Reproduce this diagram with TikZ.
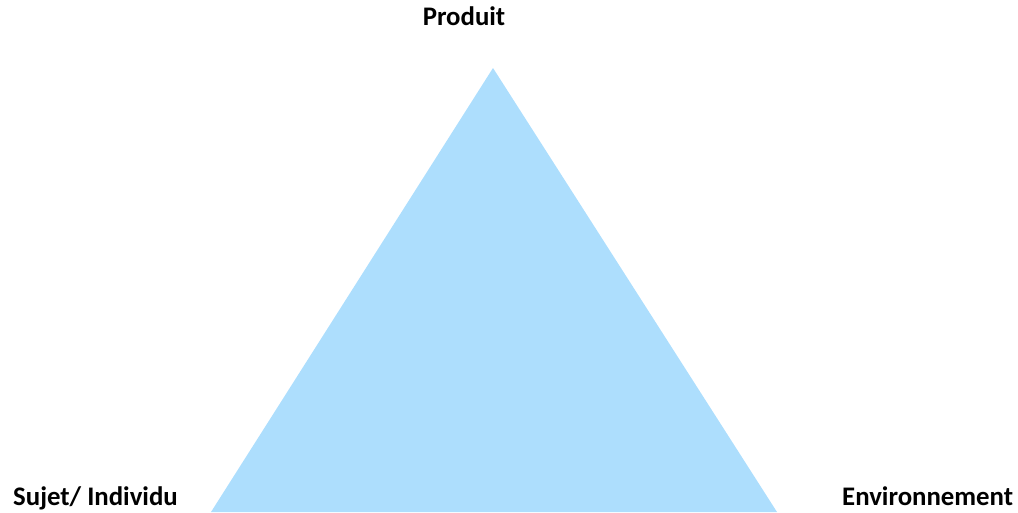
\documentclass[tikz,border=0pt]{standalone}
\usepackage{fontspec}
\setmainfont{Carlito}
\usetikzlibrary{positioning}
\definecolor{trifill}{HTML}{ADDEFD}

\begin{document}
\begin{tikzpicture}[x=1pt, y=-1pt,
  corner/.style={font=\fontsize{26.8}{32}\selectfont\bfseries, inner sep=0pt, anchor=base west},
]
  \useasboundingbox (0,0) rectangle (1018,512);

  % the triangle
  \coordinate (top) at (493,68);
  \coordinate (left) at (211,512);
  \coordinate (right) at (777,512);
  \fill[trifill] (left) -- (top) -- (right) -- cycle;

  % labels at the corners
  \node[corner, anchor=base] (prod) at (464,25) {Produit};
  \node[corner] (sujet) at (13,505) {Sujet/ Individu};
  \node[corner] (env) at (842,505) {Environnement};
\end{tikzpicture}
\end{document}
